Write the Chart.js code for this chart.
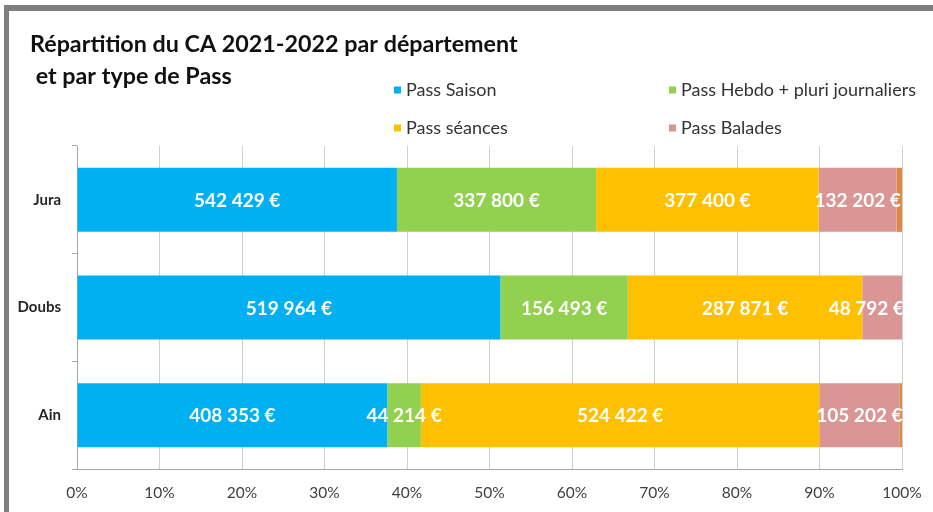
<!DOCTYPE html>
<html lang="fr">
<head>
<meta charset="utf-8">
<title>Répartition du CA 2021-2022</title>
<script src="https://cdn.jsdelivr.net/npm/chart.js@4/dist/chart.umd.min.js"></script>
<style>
  html, body { margin: 0; padding: 0; background: #ffffff; }
  #wrap { position: relative; width: 933px; height: 512px; }
</style>
</head>
<body>
<div id="wrap"><canvas id="chart" width="933" height="512"></canvas></div>
<script>
// Chiffre d'affaires par département (en €)
const departements = ['Jura', 'Doubs', 'Ain'];
const passSaison   = [542429, 519964, 408353];
const passHebdo    = [337800, 156493, 44214];
const passSeances  = [377400, 287871, 524422];
const passBalades  = [132202, 48792, 105202];
const autres       = [9000, 0, 3500];

const titleLines = ['Répartition du CA 2021-2022 par département', ' et par type de Pass'];
const xTicks = [0, 10, 20, 30, 40, 50, 60, 70, 80, 90, 100];

const series = [
  { label: 'Pass Saison', values: passSaison, color: '#00B0F0', legend: true },
  { label: 'Pass Hebdo + pluri journaliers', values: passHebdo, color: '#92D050', legend: true },
  { label: 'Pass séances', values: passSeances, color: '#FFC000', legend: true },
  { label: 'Pass Balades', values: passBalades, color: '#D99694', legend: true },
  { label: 'Autres', values: autres, color: '#DB8A45', legend: false }
];

// Totaux par département pour l'empilement à 100 %
const totals = departements.map((_, i) => series.reduce((s, d) => s + d.values[i], 0));

function euro(v) {
  return String(v).replace(/\B(?=(\d{3})+(?!\d))/g, ' ') + ' €';
}

const FONT = 'Lato, "Open Sans", "Liberation Sans", sans-serif';

// Cadre, titre et légende
const decorPlugin = {
  id: 'decor',
  beforeDraw(chart) {
    const ctx = chart.ctx;
    ctx.save();
    ctx.fillStyle = '#ffffff';
    ctx.fillRect(0, 0, chart.width, chart.height);
    ctx.fillStyle = '#7f7f7f';
    ctx.fillRect(4, 5, chart.width - 4, 6);
    ctx.fillRect(4, 5, 5, chart.height - 5);
    ctx.restore();
  },
  afterDraw(chart) {
    const ctx = chart.ctx;
    ctx.save();
    ctx.fillStyle = '#111111';
    ctx.font = 'bold 23.3px ' + FONT;
    ctx.textBaseline = 'middle';
    ctx.textAlign = 'left';
    ctx.fillText(titleLines[0], 30, 44);
    ctx.fillText(titleLines[1], 30, 76);

    const cols = [394, 669];
    const rows = [90, 128];
    const items = series.filter(s => s.legend);
    ctx.font = '18px ' + FONT;
    items.forEach((s, k) => {
      const x = cols[k % 2];
      const y = rows[Math.floor(k / 2)];
      ctx.fillStyle = s.color;
      ctx.fillRect(x, y - 3.5, 7, 7);
      ctx.fillStyle = '#333333';
      ctx.fillText(s.label, x + 12, y);
    });
    ctx.restore();
  }
};

// Montants en € au centre de chaque segment, ramenés dans la zone du graphique
const valueLabels = {
  id: 'valueLabels',
  afterDatasetsDraw(chart) {
    const ctx = chart.ctx;
    const area = chart.chartArea;
    ctx.save();
    ctx.beginPath();
    ctx.rect(area.left, area.top, area.right - area.left, area.bottom - area.top);
    ctx.clip();
    ctx.font = 'bold 19px ' + FONT;
    ctx.fillStyle = '#ffffff';
    ctx.textAlign = 'center';
    ctx.textBaseline = 'middle';
    chart.data.datasets.forEach((ds, di) => {
      if (!series[di].legend) return;
      const meta = chart.getDatasetMeta(di);
      meta.data.forEach((bar, i) => {
        const v = series[di].values[i];
        if (!v) return;
        const text = euro(v);
        const half = ctx.measureText(text).width / 2;
        const p = bar.getProps(['x', 'y', 'base'], true);
        let cx = (p.x + p.base) / 2;
        cx = Math.min(cx, area.right + 2 - half);
        ctx.fillText(text, cx, p.y + 1);
      });
    });
    ctx.restore();
  }
};

new Chart(document.getElementById('chart'), {
  type: 'bar',
  data: {
    labels: departements,
    datasets: series.map(s => ({
      label: s.label,
      data: s.values.map((v, i) => v / totals[i] * 100),
      backgroundColor: s.color,
      borderWidth: 0,
      categoryPercentage: 1,
      barPercentage: 0.595
    }))
  },
  options: {
    indexAxis: 'y',
    responsive: false,
    animation: false,
    devicePixelRatio: 1,
    layout: { padding: { top: 146, right: 31, left: 0, bottom: 0 } },
    plugins: {
      legend: { display: false },
      title: { display: false },
      tooltip: { enabled: false }
    },
    scales: {
      x: {
        stacked: true,
        min: 0,
        max: 100,
        afterBuildTicks(scale) { scale.ticks = xTicks.map(v => ({ value: v })); },
        afterFit(scale) {
          scale.height = 43;
          scale.paddingLeft = 0;
          scale.paddingRight = 0;
        },
        ticks: {
          callback: v => v + '%',
          color: '#404040',
          font: { family: FONT, size: 15.5 },
          padding: 15,
          maxRotation: 0
        },
        grid: { color: '#d0d0d0', lineWidth: 1, drawTicks: false },
        border: { color: '#a6a6a6', width: 1 }
      },
      y: {
        stacked: true,
        afterFit(scale) { scale.width = 77; },
        ticks: {
          color: '#262626',
          font: { family: FONT, size: 15, weight: 'bold' },
          padding: 11
        },
        grid: {
          offset: true,
          drawOnChartArea: false,
          drawTicks: true,
          tickLength: 5,
          color: '#a6a6a6'
        },
        border: { color: '#a6a6a6', width: 1 }
      }
    }
  },
  plugins: [decorPlugin, valueLabels]
});
</script>
</body>
</html>
